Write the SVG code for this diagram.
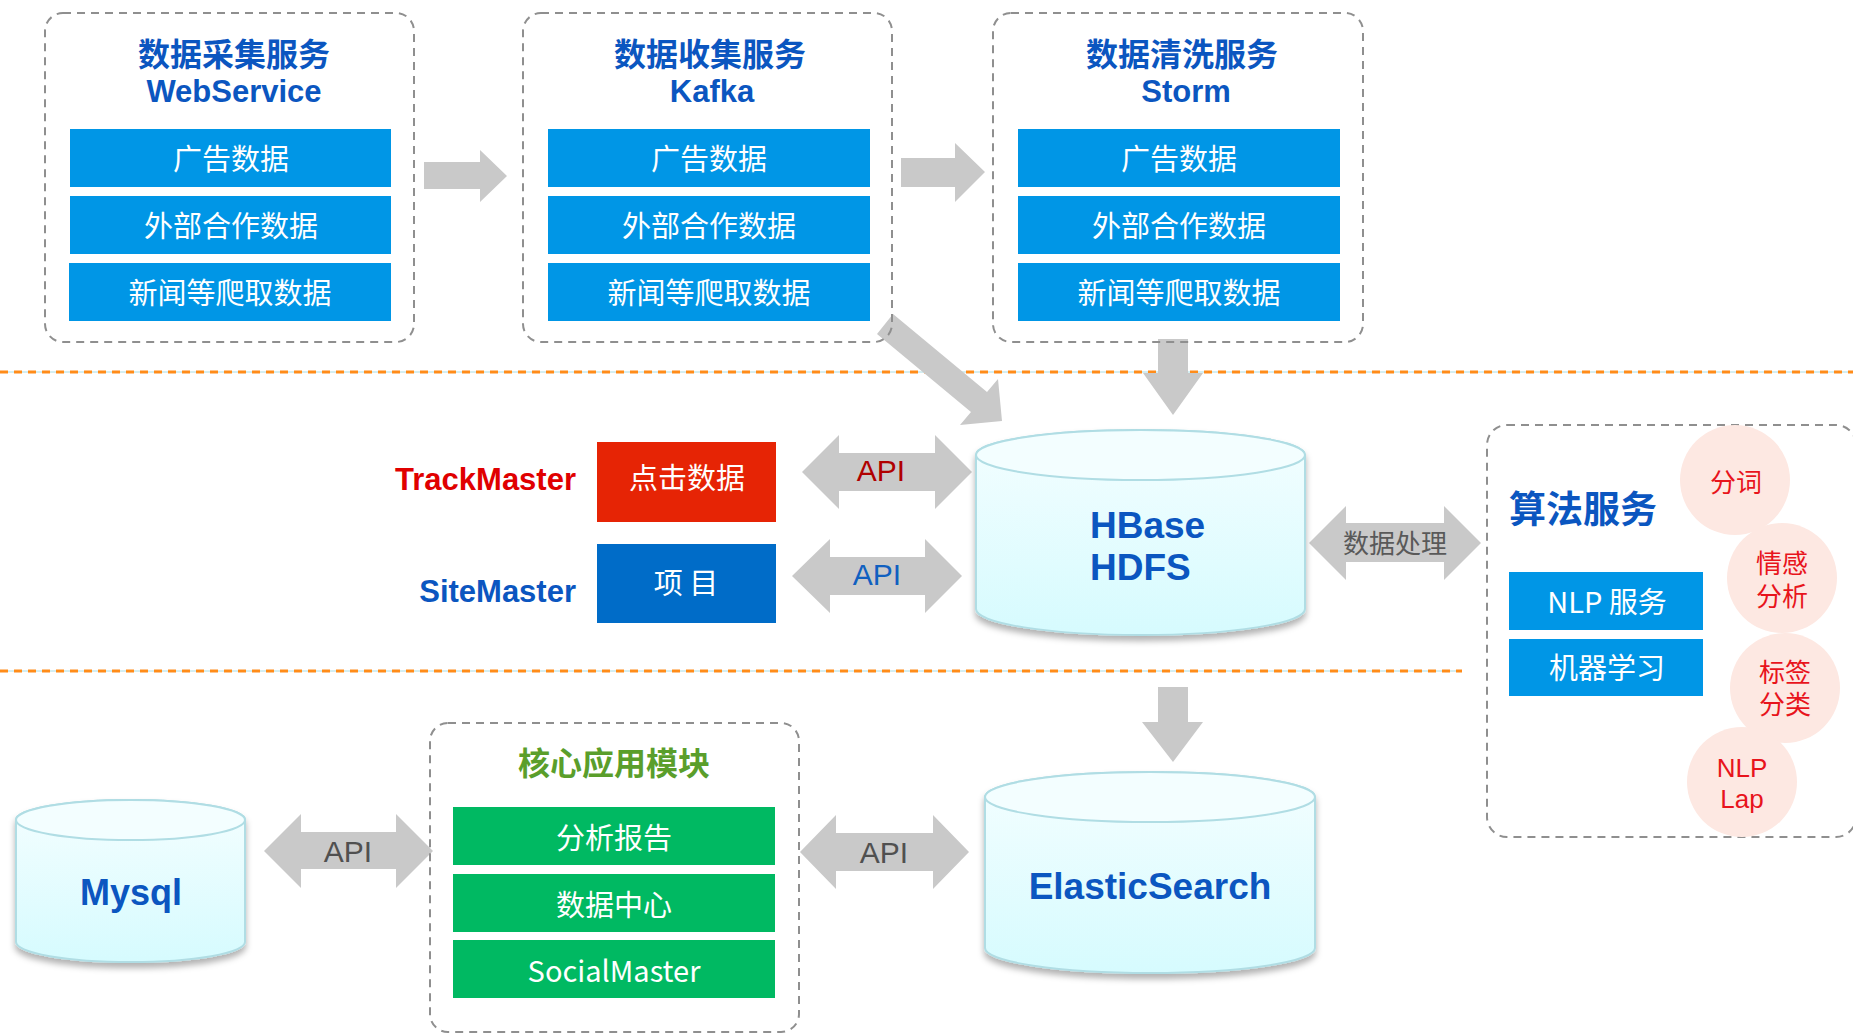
<svg xmlns="http://www.w3.org/2000/svg" width="1853" height="1034" viewBox="0 0 1853 1034">
<style>
.dbox{fill:none;stroke:#8f8f8f;stroke-width:2;stroke-dasharray:8 6}
.bar{fill:#0096e6}
.gbar{fill:#00b962}
.bt{font-family:"Noto Sans CJK SC",sans-serif;font-size:29px;fill:#fff;text-anchor:middle}
.t1{font-family:"Noto Sans CJK SC",sans-serif;font-size:32px;font-weight:700;fill:#0b56c0;text-anchor:middle}
.t2{font-family:"Liberation Sans",Arial,sans-serif;font-size:31px;font-weight:700;fill:#0b56c0;text-anchor:middle}
.lat{font-family:"Liberation Sans",Arial,sans-serif;font-weight:700}
.arr{fill:#c9c9c9}
.api{font-family:"Liberation Sans",Arial,sans-serif;font-size:30px;text-anchor:middle}
.ct{font-family:"Noto Sans CJK SC",sans-serif;font-size:26px;fill:#e8141c;text-anchor:middle}
.circ{fill:#fde8e2}
.cyl{fill:url(#cg);stroke:#b0dde4;stroke-width:2}
.cyltop{fill:#f3feff;stroke:#b0dde4;stroke-width:2}
.orange{stroke:#ff8c1a;stroke-width:3;stroke-dasharray:8 6}
.thin{stroke:#a8dce4;stroke-width:1}
</style>
<defs>
<linearGradient id="cg" x1="0" y1="0" x2="0" y2="1">
<stop offset="0" stop-color="#f4feff"/>
<stop offset="1" stop-color="#d6fbfe"/>
</linearGradient>
<filter id="sh" x="-10%" y="-10%" width="120%" height="130%">
<feDropShadow dx="0" dy="5" stdDeviation="3" flood-color="#000" flood-opacity="0.3"/>
</filter>
</defs>
<rect width="1853" height="1034" fill="#fff"/>

<g id="separators">
<line class="thin" x1="0" y1="372" x2="1853" y2="372"/>
<line class="orange" x1="0" y1="372" x2="1853" y2="372"/>
<line class="thin" x1="0" y1="671" x2="1462" y2="671"/>
<line class="orange" x1="0" y1="671" x2="1462" y2="671"/>
</g>

<g id="connectors">
<polygon class="arr" points="424,162 480,162 480,150 507,176 480,202 480,189 424,189"/>
<polygon class="arr" points="901,158 955,158 955,143 985,172 955,202 955,187 901,187"/>
<polygon class="arr" points="893,314 987,392 998,379 1002,421 960,425 971,412 877,334"/>
<polygon class="arr" points="1158,339 1188,339 1188,373 1203,373 1173,415 1143,373 1158,373"/>
<polygon class="arr" points="802,472 839,435 839,453 935,453 935,435 972,472 935,509 935,491 839,491 839,509"/>
<text class="api" x="881" y="481" fill="#b00000">API</text>
<polygon class="arr" points="792,576 830,539 830,557 925,557 925,539 962,576 925,613 925,595 830,595 830,613"/>
<text class="api" x="877" y="585" fill="#1060c0">API</text>
<polygon class="arr" points="1309,543 1346,506 1346,523 1444,523 1444,506 1481,543 1444,580 1444,562 1346,562 1346,580"/>
<text x="1395" y="553" font-family="Noto Sans CJK SC,sans-serif" font-size="26" fill="#595959" text-anchor="middle">数据处理</text>
<polygon class="arr" points="1158,687 1188,687 1188,722 1203,722 1173,762 1142,722 1158,722"/>
<polygon class="arr" points="264,851 301,814 301,832 396,832 396,814 433,851 396,888 396,869 301,869 301,888"/>
<text class="api" x="348" y="862" fill="#505050">API</text>
<polygon class="arr" points="800,852 836,815 836,833 933,833 933,815 969,852 933,889 933,871 836,871 836,889"/>
<text class="api" x="884" y="863" fill="#505050">API</text>
</g>

<g id="collect">
<rect class="dbox" x="45" y="13" width="369" height="329" rx="18"/>
<text class="t1" x="234" y="66">数据采集服务</text>
<text class="t2" x="234" y="102">WebService</text>
<rect class="bar" x="70" y="129" width="321" height="58"/>
<text class="bt" x="231" y="170">广告数据</text>
<rect class="bar" x="70" y="196" width="321" height="58"/>
<text class="bt" x="231" y="237">外部合作数据</text>
<rect class="bar" x="69" y="263" width="322" height="58"/>
<text class="bt" x="230" y="304">新闻等爬取数据</text>
</g>

<g id="kafka">
<rect class="dbox" x="523" y="13" width="369" height="329" rx="18"/>
<text class="t1" x="710" y="66">数据收集服务</text>
<text class="t2" x="712" y="102">Kafka</text>
<rect class="bar" x="548" y="129" width="322" height="58"/>
<text class="bt" x="709" y="170">广告数据</text>
<rect class="bar" x="548" y="196" width="322" height="58"/>
<text class="bt" x="709" y="237">外部合作数据</text>
<rect class="bar" x="548" y="263" width="322" height="58"/>
<text class="bt" x="709" y="304">新闻等爬取数据</text>
</g>

<g id="storm">
<rect class="dbox" x="993" y="13" width="370" height="329" rx="18"/>
<text class="t1" x="1182" y="66">数据清洗服务</text>
<text class="t2" x="1186" y="102">Storm</text>
<rect class="bar" x="1018" y="129" width="322" height="58"/>
<text class="bt" x="1179" y="170">广告数据</text>
<rect class="bar" x="1018" y="196" width="322" height="58"/>
<text class="bt" x="1179" y="237">外部合作数据</text>
<rect class="bar" x="1018" y="263" width="322" height="58"/>
<text class="bt" x="1179" y="304">新闻等爬取数据</text>
</g>

<g id="trackmaster">
<text class="lat" x="576" y="490" font-size="31" fill="#e00000" text-anchor="end">TrackMaster</text>
<rect x="597" y="442" width="179" height="80" fill="#e62405"/>
<text class="bt" x="687" y="489">点击数据</text>
</g>

<g id="sitemaster">
<text class="lat" x="576" y="602" font-size="31" fill="#0b56c0" text-anchor="end">SiteMaster</text>
<rect x="597" y="544" width="179" height="79" fill="#006cc8"/>
<text class="bt" x="686" y="594">项 目</text>
</g>

<g id="hbase" filter="url(#sh)">
<path class="cyl" d="M976,455 V609 A164.5,26 0 0 0 1305,609 V455 A164.5,25 0 0 0 976,455 Z"/>
<ellipse class="cyltop" cx="1140.5" cy="455" rx="164.5" ry="25"/>
</g>
<g id="hbase-label">
<text class="lat" x="1090" y="538" font-size="37" fill="#0b56c0">HBase</text>
<text class="lat" x="1090" y="580" font-size="37" fill="#0b56c0">HDFS</text>
</g>

<g id="algo">
<rect class="dbox" x="1487" y="425" width="369" height="412" rx="20"/>
<text x="1509" y="523" font-family="Noto Sans CJK SC,sans-serif" font-size="37" font-weight="700" fill="#0b56c0">算法服务</text>
<rect class="bar" x="1509" y="572" width="194" height="58"/>
<text class="bt" x="1607" y="613">NLP 服务</text>
<rect class="bar" x="1509" y="639" width="194" height="57"/>
<text class="bt" x="1607" y="679">机器学习</text>
<circle class="circ" cx="1735" cy="480" r="55"/>
<text class="ct" x="1736" y="492">分词</text>
<circle class="circ" cx="1782" cy="578" r="55"/>
<text class="ct"><tspan x="1782" y="573">情感</tspan><tspan x="1782" y="606">分析</tspan></text>
<circle class="circ" cx="1785" cy="688" r="55"/>
<text class="ct"><tspan x="1785" y="682">标签</tspan><tspan x="1785" y="714">分类</tspan></text>
<circle class="circ" cx="1742" cy="782" r="55"/>
<text font-family="Liberation Sans,Arial,sans-serif" font-size="26" fill="#e8141c" text-anchor="middle"><tspan x="1742" y="777">NLP</tspan><tspan x="1742" y="808">Lap</tspan></text>
</g>

<g id="mysql">
<g filter="url(#sh)">
<path class="cyl" d="M16,820 V942 A114.5,20 0 0 0 245,942 V820 A114.5,20 0 0 0 16,820 Z"/>
<ellipse class="cyltop" cx="130.5" cy="820" rx="114.5" ry="20"/>
</g>
<text class="lat" x="131" y="905" font-size="36" fill="#0b56c0" text-anchor="middle">Mysql</text>
</g>

<g id="core">
<rect class="dbox" x="430" y="723" width="369" height="309" rx="18"/>
<text x="614" y="775" font-family="Noto Sans CJK SC,sans-serif" font-size="32" font-weight="700" fill="#5a9e2b" text-anchor="middle">核心应用模块</text>
<rect class="gbar" x="453" y="807" width="322" height="58"/>
<text class="bt" x="614" y="849">分析报告</text>
<rect class="gbar" x="453" y="874" width="322" height="58"/>
<text class="bt" x="614" y="916">数据中心</text>
<rect class="gbar" x="453" y="940" width="322" height="58"/>
<text class="bt" x="614" y="982" font-size="28">SocialMaster</text>
</g>

<g id="elasticsearch">
<g filter="url(#sh)">
<path class="cyl" d="M985,797 V948 A165,25 0 0 0 1315,948 V797 A165,25 0 0 0 985,797 Z"/>
<ellipse class="cyltop" cx="1150" cy="797" rx="165" ry="25"/>
</g>
<text class="lat" x="1150" y="899" font-size="37" fill="#0b56c0" text-anchor="middle">ElasticSearch</text>
</g>
</svg>
